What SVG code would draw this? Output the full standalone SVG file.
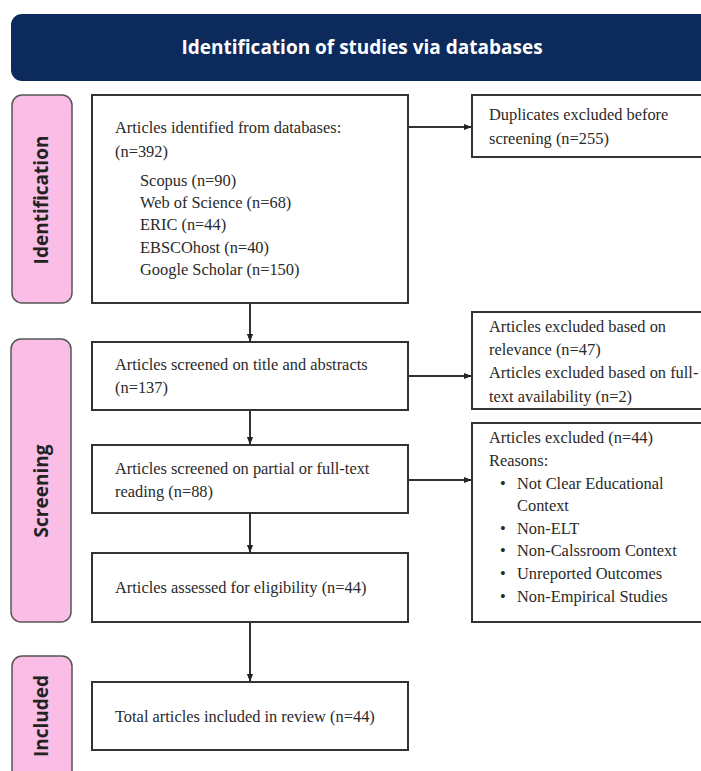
<svg xmlns="http://www.w3.org/2000/svg" width="701" height="771" viewBox="0 0 701 771">
<defs>
<style>
.box{fill:#fff;stroke:#333;stroke-width:2}
.pill{fill:#f9bde6;stroke:#555;stroke-width:1.5}
.t{font-size:16.4px;fill:#2a2a2a}
.lab{font-family:"Open Sans","DejaVu Sans",sans-serif;font-weight:bold;font-size:19px;fill:#222}
.c{stroke:#333;stroke-width:2;fill:none}
</style>
<marker id="ah" viewBox="0 0 10 10" refX="9" refY="5" markerWidth="4" markerHeight="4" orient="auto"><path d="M0,1 L10,5 L0,9 z" fill="#222"/></marker>
</defs>
<rect width="701" height="771" fill="#fff"/>
<g id="header">
<rect x="11" y="14" width="710" height="67" rx="11" fill="#0c2a5b"/>
<text x="362" y="54" text-anchor="middle" font-family="'Open Sans','DejaVu Sans',sans-serif" font-weight="bold" font-size="19" fill="#fff">Identification of studies via databases</text>
</g>
<g id="stage-identification">
<rect class="pill" x="12" y="95" width="60" height="208" rx="10"/>
<text class="lab" transform="translate(48,200) rotate(-90)" text-anchor="middle">Identification</text>
</g>
<g id="stage-screening">
<rect class="pill" x="11" y="339" width="60" height="283" rx="10"/>
<text class="lab" transform="translate(48,491) rotate(-90)" text-anchor="middle">Screening</text>
</g>
<g id="stage-included">
<rect class="pill" x="12" y="656" width="60" height="130" rx="10"/>
<text class="lab" transform="translate(48,716) rotate(-90)" text-anchor="middle">Included</text>
</g>
<g font-family="'Liberation Serif','Times New Roman','DejaVu Serif',serif">
<g id="identified">
<rect class="box" x="92" y="95" width="316" height="208"/>
<text class="t" x="115" y="133">Articles identified from databases:</text>
<text class="t" x="115" y="157">(n=392)</text>
<text class="t" x="140" y="186">Scopus (n=90)</text>
<text class="t" x="140" y="208">Web of Science (n=68)</text>
<text class="t" x="140" y="230">ERIC (n=44)</text>
<text class="t" x="140" y="253">EBSCOhost (n=40)</text>
<text class="t" x="140" y="275">Google Scholar (n=150)</text>
</g>
<g id="duplicates">
<rect class="box" x="472" y="95" width="240" height="62"/>
<text class="t" x="489" y="120">Duplicates excluded before</text>
<text class="t" x="489" y="144">screening (n=255)</text>
</g>
<g id="screened-title">
<rect class="box" x="92" y="342" width="316" height="68"/>
<text class="t" x="115" y="370">Articles screened on title and abstracts</text>
<text class="t" x="115" y="393">(n=137)</text>
</g>
<g id="excluded-relevance">
<rect class="box" x="472" y="312" width="240" height="97"/>
<text class="t" x="489" y="332">Articles excluded based on</text>
<text class="t" x="489" y="355">relevance (n=47)</text>
<text class="t" x="489" y="378">Articles excluded based on full-</text>
<text class="t" x="489" y="402">text availability (n=2)</text>
</g>
<g id="screened-full">
<rect class="box" x="92" y="445" width="316" height="68"/>
<text class="t" x="115" y="474">Articles screened on partial or full-text</text>
<text class="t" x="115" y="497">reading (n=88)</text>
</g>
<g id="excluded-reasons">
<rect class="box" x="472" y="423" width="240" height="199"/>
<text class="t" x="489" y="443">Articles excluded (n=44)</text>
<text class="t" x="489" y="466">Reasons:</text>
<text class="t" x="500" y="489">•</text><text class="t" x="517" y="489">Not Clear Educational</text>
<text class="t" x="517" y="511">Context</text>
<text class="t" x="500" y="534">•</text><text class="t" x="517" y="534">Non-ELT</text>
<text class="t" x="500" y="556">•</text><text class="t" x="517" y="556">Non-Calssroom Context</text>
<text class="t" x="500" y="579">•</text><text class="t" x="517" y="579">Unreported Outcomes</text>
<text class="t" x="500" y="602">•</text><text class="t" x="517" y="602">Non-Empirical Studies</text>
</g>
<g id="eligibility">
<rect class="box" x="92" y="553" width="316" height="69"/>
<text class="t" x="115" y="593">Articles assessed for eligibility (n=44)</text>
</g>
<g id="included">
<rect class="box" x="92" y="682" width="316" height="68"/>
<text class="t" x="115" y="722">Total articles included in review (n=44)</text>
</g>
</g>
<g id="connectors">
<line class="c" x1="408" y1="127" x2="471" y2="127" marker-end="url(#ah)"/>
<line class="c" x1="250" y1="303" x2="250" y2="341" marker-end="url(#ah)"/>
<line class="c" x1="408" y1="376" x2="471" y2="376" marker-end="url(#ah)"/>
<line class="c" x1="250" y1="410" x2="250" y2="444" marker-end="url(#ah)"/>
<line class="c" x1="408" y1="480" x2="471" y2="480" marker-end="url(#ah)"/>
<line class="c" x1="250" y1="513" x2="250" y2="552" marker-end="url(#ah)"/>
<line class="c" x1="250" y1="622" x2="250" y2="681" marker-end="url(#ah)"/>
</g>
</svg>
